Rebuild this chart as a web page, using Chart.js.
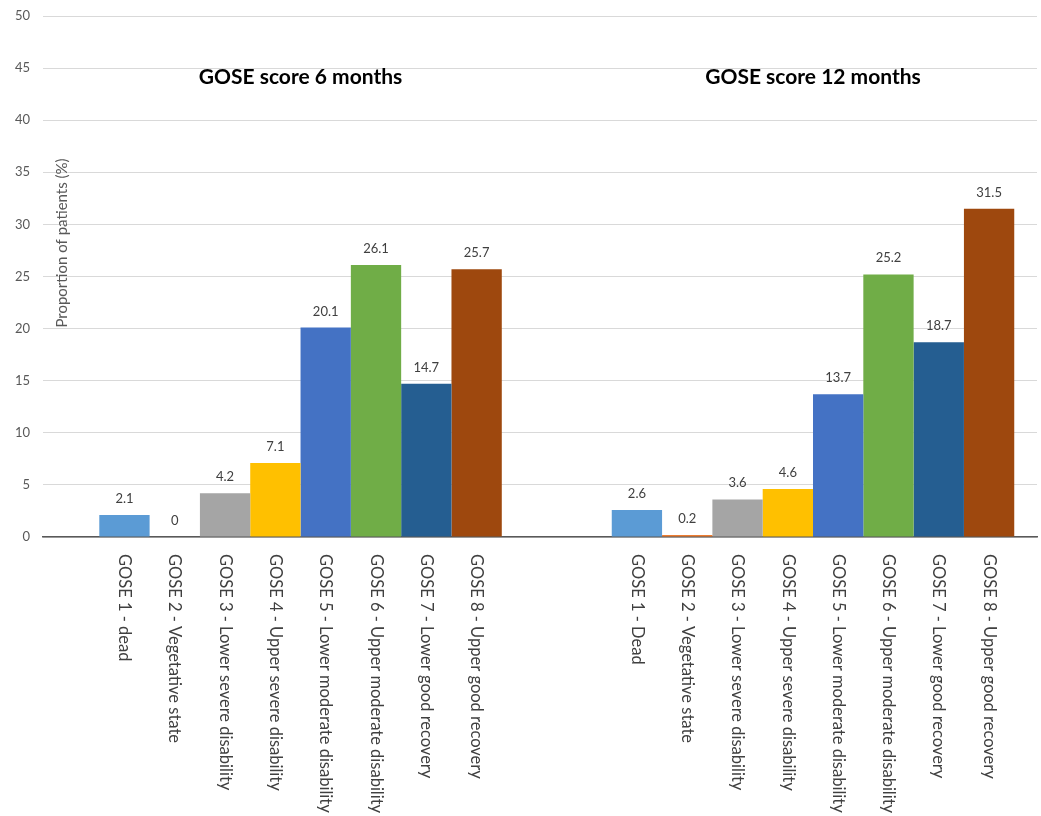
<!DOCTYPE html>
<html>
<head>
<meta charset="utf-8">
<script src="https://cdn.jsdelivr.net/npm/chart.js@4/dist/chart.umd.min.js"></script>
<style>
  html, body { margin: 0; padding: 0; background: #ffffff; }
  #wrap { width: 1041px; height: 816px; position: relative; }
</style>
</head>
<body>
<div id="wrap"><canvas id="c"></canvas></div>
<script>
// ---- Data ----
const groups = ['GOSE score 6 months', 'GOSE score 12 months'];
const categories6 = [
  'GOSE 1 - dead', 'GOSE 2 - Vegetative state', 'GOSE 3 - Lower severe disability',
  'GOSE 4 - Upper severe disability', 'GOSE 5 - Lower moderate disability',
  'GOSE 6 - Upper moderate disability', 'GOSE 7 - Lower good recovery', 'GOSE 8 - Upper good recovery'
];
const categories12 = [
  'GOSE 1 - Dead', 'GOSE 2 - Vegetative state', 'GOSE 3 - Lower severe disability',
  'GOSE 4 - Upper severe disability', 'GOSE 5 - Lower moderate disability',
  'GOSE 6 - Upper moderate disability', 'GOSE 7 - Lower good recovery', 'GOSE 8 - Upper good recovery'
];
const values6 = [2.1, 0, 4.2, 7.1, 20.1, 26.1, 14.7, 25.7];
const values12 = [2.6, 0.2, 3.6, 4.6, 13.7, 25.2, 18.7, 31.5];
const yTicks = [0, 5, 10, 15, 20, 25, 30, 35, 40, 45, 50];
const yTitle = 'Proportion of patients (%)';
const colors = ['#5B9BD5', '#ED7D31', '#A5A5A5', '#FFC000', '#4472C4', '#70AD47', '#255E91', '#9E480E'];

const FONT = 'Lato, "Open Sans", sans-serif';
const groupLabels = [categories6, categories12];
const groupValues = [values6, values12];

const datasets = colors.map((c, k) => ({
  label: 'GOSE ' + (k + 1),
  data: groups.map((g, gi) => ({ x: gi, y: groupValues[gi][k] })),
  backgroundColor: c,
  borderWidth: 0,
  barPercentage: 1,
  categoryPercentage: 0.7854
}));

const overlay = {
  id: 'overlay',
  afterDatasetsDraw(chart) {
    const ctx = chart.ctx;
    const area = chart.chartArea;
    const xs = chart.scales.x;
    ctx.save();
    chart.data.datasets.forEach((ds, k) => {
      const meta = chart.getDatasetMeta(k);
      meta.data.forEach((bar, gi) => {
        const v = ds.data[gi].y;
        ctx.fillStyle = '#404040';
        ctx.font = '13px ' + FONT;
        ctx.textAlign = 'center';
        ctx.textBaseline = 'alphabetic';
        ctx.fillText(String(v), bar.x, bar.y - 12);
        ctx.save();
        ctx.translate(bar.x, area.bottom + 17);
        ctx.rotate(Math.PI / 2);
        ctx.font = '16.5px ' + FONT;
        ctx.textAlign = 'left';
        ctx.textBaseline = 'middle';
        ctx.fillStyle = '#404040';
        ctx.fillText(groupLabels[gi][k], 0, 0);
        ctx.restore();
      });
    });
    ctx.font = 'bold 21px ' + FONT;
    ctx.fillStyle = '#000000';
    ctx.textAlign = 'center';
    ctx.textBaseline = 'middle';
    groups.forEach((g, gi) => {
      ctx.fillText(g, xs.getPixelForValue(gi), area.top + 61);
    });
    ctx.save();
    ctx.translate(area.left + 19, area.top + 227);
    ctx.rotate(-Math.PI / 2);
    ctx.font = '15px ' + FONT;
    ctx.fillStyle = '#595959';
    ctx.textAlign = 'center';
    ctx.textBaseline = 'middle';
    ctx.fillText(yTitle, 0, 0);
    ctx.restore();
    ctx.restore();
  }
};

new Chart(document.getElementById('c'), {
  type: 'bar',
  data: { datasets },
  options: {
    responsive: true,
    maintainAspectRatio: false,
    animation: false,
    layout: { padding: { left: 2, top: 16, right: 4, bottom: 279 } },
    plugins: { legend: { display: false }, tooltip: { enabled: false } },
    scales: {
      x: {
        type: 'linear',
        min: -0.5024,
        max: 1.4371,
        bounds: 'data',
        offset: false,
        afterBuildTicks: (axis) => { axis.ticks = groups.map((g, i) => ({ value: i })); },
        ticks: { display: false },
        grid: { display: false, drawTicks: false },
        border: { display: true, color: '#595959', width: 1.5 }
      },
      y: {
        min: 0,
        max: 50,
        afterBuildTicks: (axis) => { axis.ticks = yTicks.map(v => ({ value: v })); },
        ticks: { color: '#595959', font: { family: FONT, size: 13, lineHeight: 0.4 }, padding: 13 },
        grid: { color: '#D9D9D9', lineWidth: 1, drawTicks: false },
        border: { display: false }
      }
    }
  },
  plugins: [overlay]
});
</script>
</body>
</html>
